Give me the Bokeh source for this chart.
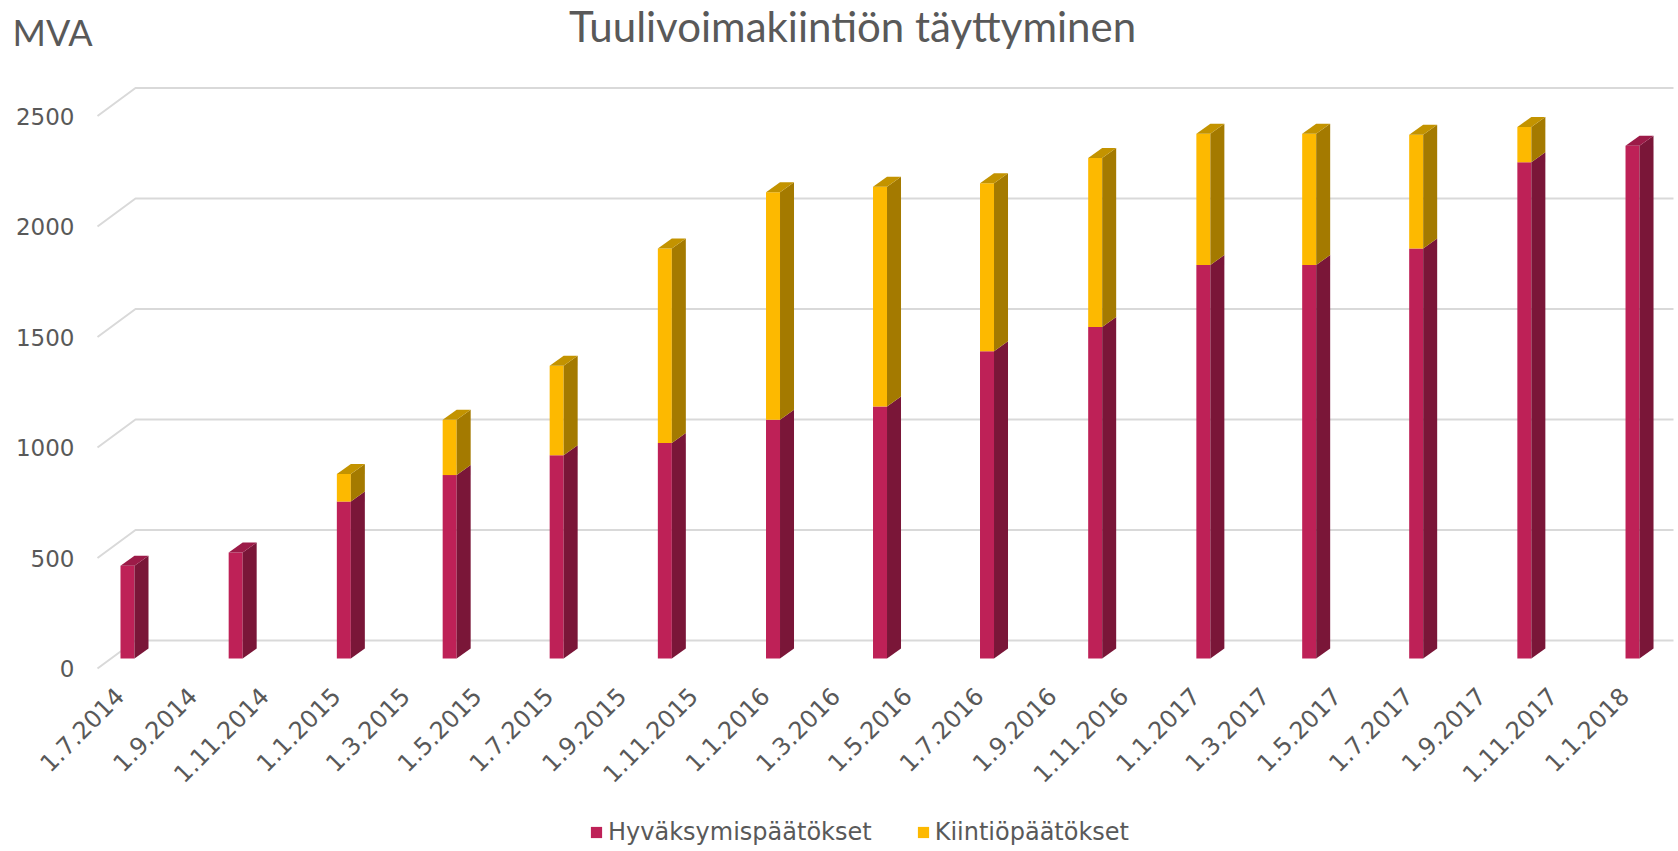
from datetime import datetime
from math import pi

from bokeh.plotting import figure
from bokeh.models import (Range1d, LinearAxis, FixedTicker, Label,
                          Legend, LegendItem, ColumnDataSource)
from bokeh.embed import file_html
from bokeh.resources import INLINE

# ---------------- data ----------------
bar_dates = ["1.7.2014", "1.10.2014", "1.1.2015", "1.4.2015", "1.7.2015",
             "1.10.2015", "1.1.2016", "1.4.2016", "1.7.2016", "1.10.2016",
             "1.1.2017", "1.4.2017", "1.7.2017", "1.10.2017", "1.1.2018"]
hyvaksymis = [420, 480, 710, 830, 920, 975, 1080, 1140, 1390, 1500,
              1780, 1780, 1855, 2245, 2320]
kiintio = [0, 0, 125, 250, 405, 880, 1030, 995, 760, 765,
           595, 595, 515, 160, 0]
x_tick_labels = ["1.7.2014", "1.9.2014", "1.11.2014", "1.1.2015", "1.3.2015",
                 "1.5.2015", "1.7.2015", "1.9.2015", "1.11.2015", "1.1.2016",
                 "1.3.2016", "1.5.2016", "1.7.2016", "1.9.2016", "1.11.2016",
                 "1.1.2017", "1.3.2017", "1.5.2017", "1.7.2017", "1.9.2017",
                 "1.11.2017", "1.1.2018"]
y_ticks = [0, 500, 1000, 1500, 2000, 2500]
series_names = ["Hyväksymispäätökset", "Kiintiöpäätökset"]
title_text = "Tuulivoimakiintiön täyttyminen"
unit_text = "MVA"

# ---------------- style / layout ----------------
RED = "#BE2157"; RED_SIDE = "#7A1638"; RED_TOP = "#9C1B48"
YEL = "#FDB900"; YEL_SIDE = "#A47A00"; YEL_TOP = "#C39300"
GRID = "#D9D9D9"; TXT = "#595959"

W_PX, H_PX = 1678, 850
EPOCH = datetime(1970, 1, 1)
DAY = 86400000.0


def to_ms(s):
    d, m, y = (int(t) for t in s.split("."))
    return (datetime(y, m, d) - EPOCH).total_seconds() * 1000.0


PX_PER_DAY = 1.1758
PX_PER_UNIT = 0.221
FIRST_X_PX = 127          # pixel of first bar centre
ZERO_Y_PX = 658           # pixel of value 0 in the bar plane
LABEL_SHIFT_PX = -8       # tick labels end slightly left of the bar centre

X_START = to_ms(bar_dates[0]) - FIRST_X_PX / PX_PER_DAY * DAY
X_END = X_START + W_PX / PX_PER_DAY * DAY
Y_END = ZERO_Y_PX / PX_PER_UNIT
Y_START = -(H_PX - ZERO_Y_PX) / PX_PER_UNIT


def xpx(px):
    return X_START + px / PX_PER_DAY * DAY


def ypx(px):
    return (ZERO_Y_PX - px) / PX_PER_UNIT


W = 14.0 / PX_PER_DAY * DAY          # bar front width
DX = 14.0 / PX_PER_DAY * DAY         # depth shift in x
DY = 10.0 / PX_PER_UNIT              # depth shift in y
FRONT_DY = 10.0 / PX_PER_UNIT        # axis plane below bar plane
WALL_DY = 18.0 / PX_PER_UNIT         # back wall above bar plane

p = figure(width=W_PX, height=H_PX, output_backend="svg", toolbar_location=None,
           x_axis_type="datetime", y_axis_location=None,
           x_range=Range1d(X_START, X_END), y_range=Range1d(Y_START, Y_END),
           min_border=0)
p.title.visible = False
p.outline_line_color = None
p.xgrid.visible = False
p.ygrid.visible = False
p.background_fill_color = "white"
p.border_fill_color = "white"

p.extra_y_ranges = {"front": Range1d(Y_START + FRONT_DY, Y_END + FRONT_DY)}

# gridlines on the back wall with the floor-to-wall stub
gxs, gys = [], []
for v in y_ticks:
    gxs.append([xpx(97), xpx(135), xpx(1673)])
    gys.append([v - FRONT_DY, v + WALL_DY, v + WALL_DY])
p.multi_line(gxs, gys, line_color=GRID, line_width=2)

# bars (front faces)
xs = [to_ms(s) for s in bar_dates]
tops = [a + b for a, b in zip(hyvaksymis, kiintio)]

r_red = p.vbar(x=xs, width=W, bottom=0, top=hyvaksymis, fill_color=RED,
               line_color=None)
r_yel = p.vbar(x=xs, width=W, bottom=hyvaksymis, top=tops, fill_color=YEL,
               line_color=None)

# side and top faces
side_x, side_y, side_c = [], [], []
top_x, top_y, top_c = [], [], []
for x, a, t in zip(xs, hyvaksymis, tops):
    xr = x + W / 2
    xl = x - W / 2
    side_x.append([xr, xr + DX, xr + DX, xr])
    side_y.append([0, DY, a + DY, a])
    side_c.append(RED_SIDE)
    if t > a:
        side_x.append([xr, xr + DX, xr + DX, xr])
        side_y.append([a, a + DY, t + DY, t])
        side_c.append(YEL_SIDE)
    top_x.append([xl, xl + DX, xr + DX, xr])
    top_y.append([t, t + DY, t + DY, t])
    top_c.append(YEL_TOP if t > a else RED_TOP)

p.patches(xs="xs", ys="ys", fill_color="c", line_color=None,
          source=ColumnDataSource(dict(xs=side_x, ys=side_y, c=side_c)))
p.patches(xs="xs", ys="ys", fill_color="c", line_color=None,
          source=ColumnDataSource(dict(xs=top_x, ys=top_y, c=top_c)))

# x axis (fixed just below the floor)
shift = LABEL_SHIFT_PX / PX_PER_DAY * DAY
tick_ms = [to_ms(s) + shift for s in x_tick_labels]
xax = p.xaxis[0]
xax.fixed_location = ypx(670)
xax.ticker = FixedTicker(ticks=tick_ms)
xax.major_label_overrides = {t: s for t, s in zip(tick_ms, x_tick_labels)}
xax.major_label_orientation = pi / 4
xax.axis_line_color = None
xax.major_tick_line_color = None
xax.minor_tick_line_color = None
xax.major_label_text_font = "DejaVu Sans"
xax.major_label_text_font_size = "24px"
xax.major_label_text_color = TXT
xax.major_label_standoff = 15

# y axis (front plane)
yax = LinearAxis(y_range_name="front", ticker=FixedTicker(ticks=y_ticks),
                 fixed_location=xpx(97))
yax.axis_line_color = None
yax.major_tick_line_color = None
yax.minor_tick_line_color = None
yax.major_label_text_font = "DejaVu Sans"
yax.major_label_text_font_size = "23px"
yax.major_label_text_color = TXT
yax.major_label_standoff = 17
p.add_layout(yax, "left")

# title and unit
p.add_layout(Label(x=852, y=H_PX - 25, x_units="screen", y_units="screen",
                   text=title_text, text_font="Lato", text_font_size="42px",
                   text_color=TXT, text_align="center", text_baseline="middle"))
p.add_layout(Label(x=12, y=H_PX - 31, x_units="screen", y_units="screen",
                   text=unit_text, text_font="Lato", text_font_size="36px",
                   text_color=TXT, text_align="left", text_baseline="middle"))

legend = Legend(items=[LegendItem(label=series_names[0], renderers=[r_red]),
                       LegendItem(label=series_names[1], renderers=[r_yel])],
                orientation="horizontal", location=(589, 4),
                border_line_color=None, background_fill_alpha=0,
                padding=0, margin=0, spacing=44, label_standoff=5,
                glyph_width=14, glyph_height=14,
                label_text_font="DejaVu Sans", label_text_font_size="24px",
                label_text_color=TXT)
p.add_layout(legend, "center")

open("out.html", "w").write(file_html(p, INLINE))
